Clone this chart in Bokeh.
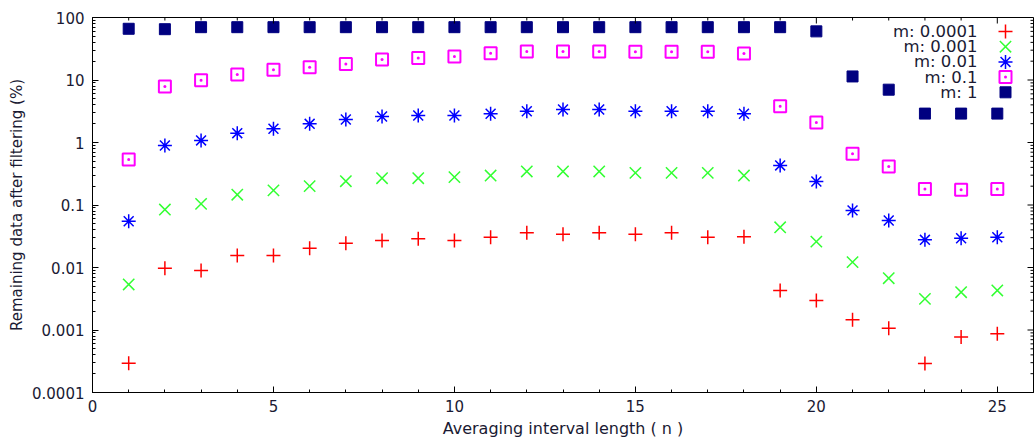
from bokeh.plotting import figure
from bokeh.models import (FixedTicker, SingleIntervalTicker, ColumnDataSource, Range1d,
                          LinearScale)
from bokeh.core.properties import value
from bokeh.embed import file_html
from bokeh.resources import INLINE

# ---- data ----
n = list(range(1, 26))
m_0_0001 = [0.000294, 0.00975, 0.00895, 0.0156, 0.0156, 0.0204, 0.0245, 0.027, 0.0288, 0.027,
            0.0305, 0.036, 0.034, 0.036, 0.034, 0.036, 0.0305, 0.031, 0.00429, 0.00297,
            0.00146, 0.00107, 0.00029, 0.00077, 0.00087]
m_0_001 = [0.00535, 0.0847, 0.104, 0.146, 0.171, 0.2, 0.24, 0.268, 0.268, 0.279,
           0.296, 0.344, 0.344, 0.344, 0.327, 0.327, 0.327, 0.296, 0.044, 0.026,
           0.0122, 0.00674, 0.00315, 0.00402, 0.00429]
m_0_01 = [0.055, 0.895, 1.08, 1.41, 1.66, 1.99, 2.33, 2.61, 2.7, 2.7,
          2.88, 3.16, 3.37, 3.37, 3.16, 3.16, 3.16, 2.88, 0.43, 0.238,
          0.082, 0.0565, 0.0277, 0.0294, 0.0305]
m_0_1 = [0.535, 7.9, 9.9, 12.3, 14.6, 16.0, 18.1, 21.3, 22.4, 23.8,
         26.9, 28.5, 28.5, 28.5, 28.2, 28.2, 28.2, 26.5, 3.81, 2.09,
         0.66, 0.413, 0.18, 0.175, 0.18]
m_1 = [66, 65, 70, 70, 70, 70, 70, 70, 70, 70,
       70, 70, 70, 70, 70, 70, 70, 70, 70, 60,
       11.4, 7.0, 2.9, 2.9, 2.9]
series_labels = ["m: 0.0001", "m: 0.001", "m: 0.01", "m: 0.1", "m: 1"]
x_ticks = [0, 5, 10, 15, 20, 25]
y_tick_values = [0.0001, 0.001, 0.01, 0.1, 1, 10, 100]
y_tick_labels = ["0.0001", "0.001", "0.01", "0.1", "1", "10", "100"]

FONT = "DejaVu Sans"
TXT = "#1a1a33"
W, H = 1034, 448
LEFT, TOP, BOTTOM, RIGHT = 92, 17, 56, 1
FW, FH = W - LEFT - RIGHT, H - TOP - BOTTOM

styles = [
    dict(marker="cross", size=14, line_color="#ff0000", line_width=1.5),
    dict(marker="x", size=16, line_color="#33ff33", line_width=1.5),
    dict(marker="asterisk", size=14, line_color="#0000ff", line_width=1.5),
    dict(marker="square_dot", size=12, line_color="#ff00ff", fill_color=None, line_width=2),
    dict(marker="square", size=11, line_color="#000080", fill_color="#000080"),
]
series = [m_0_0001, m_0_001, m_0_01, m_0_1, m_1]

p = figure(width=W, height=H, x_range=(0, 26), y_range=(0.0001, 100),
           y_axis_type="log", output_backend="svg", toolbar_location=None,
           min_border_left=LEFT, min_border_right=RIGHT, min_border_top=TOP,
           min_border_bottom=BOTTOM)
p.background_fill_color = "white"
p.border_fill_color = "white"
p.outline_line_color = "black"
p.xgrid.visible = False
p.ygrid.visible = False
# pixel ranges of the frame (for legend and mirrored ticks)
p.extra_x_ranges = {"px": Range1d(0, FW)}
p.extra_y_ranges = {"px": Range1d(FH, 0)}
p.extra_x_scales = {"px": LinearScale()}
p.extra_y_scales = {"px": LinearScale()}

for ys, st in zip(series, styles):
    src = ColumnDataSource(dict(n=n, v=ys))
    p.scatter("n", "v", source=src, **st)

minor_y = [v * k for v in y_tick_values[:-1] for k in range(2, 10)]
minor_x = [i for i in range(0, 27) if i % 5 != 0]
yticker = FixedTicker(ticks=y_tick_values, minor_ticks=minor_y)
xticker = SingleIntervalTicker(interval=5, num_minor_ticks=5)


def style(ax):
    ax.major_tick_in = 6
    ax.major_tick_out = 0
    ax.minor_tick_in = 3
    ax.minor_tick_out = 0
    ax.axis_line_color = "black"
    ax.major_tick_line_color = "black"
    ax.minor_tick_line_color = "black"
    ax.major_label_text_font = FONT
    ax.major_label_text_font_size = "15px"
    ax.major_label_text_color = TXT
    ax.axis_label_text_font = FONT
    ax.axis_label_text_font_style = "normal"
    ax.axis_label_text_color = TXT


xa = p.xaxis[0]
xa.ticker = xticker
style(xa)
xa.major_label_standoff = 7
xa.axis_label = "Averaging interval length ( n )"
xa.axis_label_text_font_size = "16px"
xa.axis_label_standoff = 4

ya = p.yaxis[0]
ya.ticker = yticker
ya.major_label_overrides = {v: s for v, s in zip(y_tick_values, y_tick_labels)}
style(ya)
ya.major_label_standoff = 8
ya.axis_label = "Remaining data after filtering (%)"
ya.axis_label_text_font_size = "15px"
ya.axis_label_standoff = 3

# mirrored ticks on top and right edges
p.segment(x0=x_ticks, x1=x_ticks, y0=[0] * len(x_ticks), y1=[6] * len(x_ticks),
          y_range_name="px", line_color="black", line_width=1)
p.segment(x0=minor_x, x1=minor_x, y0=[0] * len(minor_x), y1=[3] * len(minor_x),
          y_range_name="px", line_color="black", line_width=1)
p.segment(x0=[FW - 6] * len(y_tick_values), x1=[FW] * len(y_tick_values),
          y0=y_tick_values, y1=y_tick_values, x_range_name="px", line_color="black", line_width=1)
p.segment(x0=[FW - 3] * len(minor_y), x1=[FW] * len(minor_y),
          y0=minor_y, y1=minor_y, x_range_name="px", line_color="black", line_width=1)

# legend (label right-aligned, sample to the right, gnuplot style)
text_right = FW - 56
sample_x = FW - 28
row_y = [14 + 15.2 * i for i in range(len(series_labels))]
p.text(x=[text_right] * len(series_labels), y=row_y, text=series_labels,
       x_range_name="px", y_range_name="px", text_align="right", text_baseline="middle",
       text_font=value(FONT), text_font_size="16.5px", text_color=TXT)
for yy, st in zip(row_y, styles):
    p.scatter(x=[sample_x], y=[yy], x_range_name="px", y_range_name="px", **st)

open("out.html", "w").write(file_html(p, INLINE))
